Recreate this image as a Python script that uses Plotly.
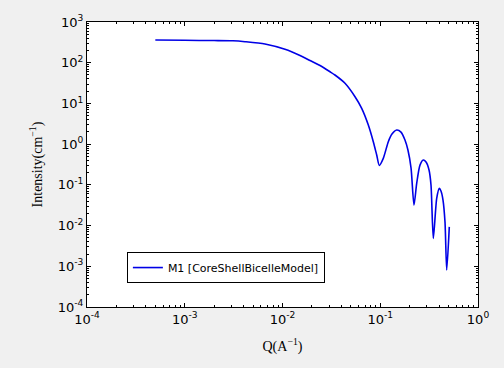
import plotly.graph_objects as go

q_values = [5.0e-4, 1.0e-3, 2.0e-3, 3.11e-3, 4.13e-3, 6.62e-3, 1.06e-2, 1.51e-2, 1.91e-2,
            2.42e-2, 3.06e-2, 3.44e-2, 4.36e-2, 5.52e-2, 6.46e-2, 7.55e-2, 8.49e-2, 9.20e-2,
            0.0978, 0.1074, 0.1209, 0.1318, 0.1473, 0.163, 0.179, 0.192, 0.2066,
            0.2214, 0.236, 0.255, 0.2757, 0.294, 0.3155, 0.3305, 0.349, 0.378, 0.402,
            0.418, 0.4385, 0.4596, 0.4786, 0.5085]
intensity_values = [361, 355, 350, 345, 328, 288, 213, 150, 113,
                    85.3, 60, 49.9, 31.2, 14.6, 7.58, 2.95, 1.15, 0.54,
                    0.30, 0.448, 1.15, 1.77, 2.22, 1.98, 1.26, 0.716, 0.259,
                    0.0319, 0.109, 0.306, 0.407, 0.363, 0.231, 0.099, 0.00485, 0.0466, 0.082,
                    0.0705, 0.0424, 0.0122, 0.00081, 0.0093]
series_name = "M1 [CoreShellBicelleModel]"
x_tick_vals = [1e-4, 1e-3, 1e-2, 1e-1, 1]
x_tick_text = ["10<sup>-4</sup>", "10<sup>-3</sup>", "10<sup>-2</sup>", "10<sup>-1</sup>", "10<sup>0</sup>"]
y_tick_vals = [1e-4, 1e-3, 1e-2, 1e-1, 1, 1e1, 1e2, 1e3]
y_tick_text = ["10<sup>-4</sup>", "10<sup>-3</sup>", "10<sup>-2</sup>", "10<sup>-1</sup>",
               "10<sup>0</sup>", "10<sup>1</sup>", "10<sup>2</sup>", "10<sup>3</sup>"]

fig = go.Figure()
fig.add_trace(go.Scatter(
    x=q_values, y=intensity_values, mode="lines", name=series_name,
    line=dict(color="#0000e6", width=1.6, shape="spline", smoothing=0.7),
))

axis_common = dict(
    type="log", showgrid=False, zeroline=False, showline=True, linecolor="black",
    linewidth=1, mirror="ticks", ticks="inside", ticklen=4, tickcolor="black",
    tickfont=dict(family="DejaVu Sans", size=13, color="black"),
    minor=dict(ticks="inside", ticklen=2, tickcolor="black", dtick="D1", showgrid=False),
)

fig.update_xaxes(**axis_common, range=[-4, 0], tickmode="array",
                 tickvals=x_tick_vals, ticktext=x_tick_text,
                 title=dict(text="Q(A<sup>−1</sup>)", font=dict(family="Liberation Serif", size=14, color="black"),
                            standoff=15))
fig.update_yaxes(**axis_common, range=[-4, 3], tickmode="array",
                 tickvals=y_tick_vals, ticktext=y_tick_text,
                 title=dict(text="Intensity(cm<sup>−1</sup>)", font=dict(family="Liberation Serif", size=14, color="black"),
                            standoff=11))

fig.update_layout(
    width=504, height=368,
    margin=dict(l=87, r=26, t=22, b=61, autoexpand=False),
    paper_bgcolor="#f0f0f0", plot_bgcolor="white",
    showlegend=True,
    legend=dict(x=0.102, y=0.084, xanchor="left", yanchor="bottom",
                bgcolor="white", bordercolor="black", borderwidth=1,
                font=dict(family="DejaVu Sans", size=11, color="black"),
                itemwidth=30),
)

fig.write_html("out.html", config={"displayModeBar": False},
               post_script="document.body.style.margin='0';document.body.style.background='#f0f0f0';")
